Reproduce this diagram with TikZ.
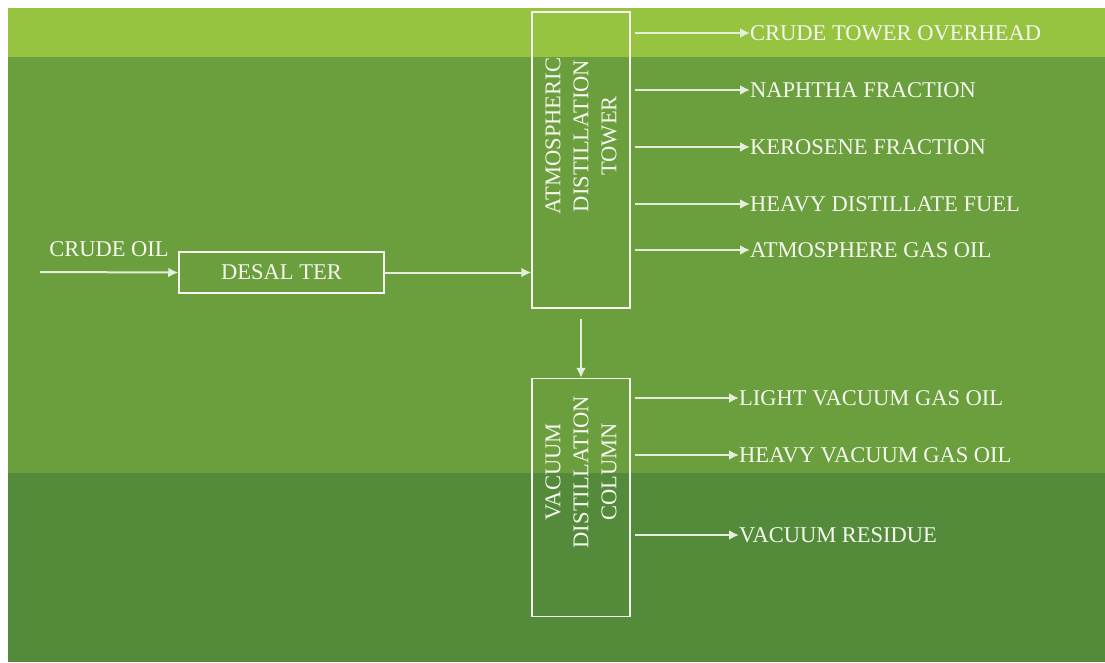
\documentclass[tikz,border=0pt]{standalone}
\usepackage{fontspec}
\setmainfont{Liberation Serif}
\usetikzlibrary{arrows.meta,positioning}
\definecolor{RFLime}{HTML}{96C440}
\definecolor{RFLeaf}{HTML}{6B9F3D}
\definecolor{RFMoss}{HTML}{548B3A}
\definecolor{RFWhite}{HTML}{F6F8F0}
\tikzset{unit/.style={draw=RFWhite,line width=1.5pt,minimum width=98pt,inner sep=0pt}, tag/.style={text=RFWhite,font=\fontsize{22.5}{28}\selectfont,inner sep=0pt}, vtag/.style={tag,rotate=90,align=center}, stream/.style={-{Latex[length=10pt,width=10pt]},line width=2pt,draw=RFWhite!88!RFLeaf}}
\begin{document}
\begin{tikzpicture}[x=1pt,y=-1pt,node distance=69pt and 4pt]
\useasboundingbox (0,0) rectangle (1105,662);
\fill[RFLime] (8,8) rectangle (1105,57);\fill[RFLeaf] (8,57) rectangle (1105,473);\fill[RFMoss] (8,473) rectangle (1105,662);
\node[unit,minimum height=296pt] (atmos) at (581,160) {};\node[unit,minimum height=238pt,below=of atmos] (vacuum) {};
\node[vtag] (atmostxt) at (581,136) {ATMOSPHERIC\\DISTILLATION\\TOWER};\node[vtag] (vacuumtxt) at (581,472) {VACUUM\\DISTILLATION\\COLUMN};
\node[unit,tag,minimum width=205pt,minimum height=41pt] (desalter) at (281.5,272.5) {DESAL TER};
\coordinate (feed) at (40,272);\node[tag] (crude) at (109,249) {CRUDE OIL};
\node[tag,anchor=west] (ovhd) at (750,33) {CRUDE TOWER OVERHEAD};\node[tag,anchor=west] (naphtha) at (750,90) {NAPHTHA FRACTION};\node[tag,anchor=west] (kero) at (750,147) {KEROSENE FRACTION};
\node[tag,anchor=west] (hdf) at (750,204) {HEAVY DISTILLATE FUEL};\node[tag,anchor=west] (ago) at (750,250) {ATMOSPHERE GAS OIL};
\node[tag,anchor=west] (lvgo) at (739,398) {LIGHT VACUUM GAS OIL};\node[tag,anchor=west] (hvgo) at (739,455) {HEAVY VACUUM GAS OIL};\node[tag,anchor=west] (vres) at (739,535) {VACUUM RESIDUE};
\draw[stream] (feed)--(desalter.west);\draw[stream] (desalter.east)--(desalter.east -| atmos.west);\draw[stream,shorten <=10pt] (atmos.south)--(vacuum.north);
\draw[stream,shorten <=4pt] (atmos.east |- ovhd.west)--(ovhd.west);\draw[stream,shorten <=4pt] (atmos.east |- naphtha.west)--(naphtha.west);\draw[stream,shorten <=4pt] (atmos.east |- kero.west)--(kero.west);
\draw[stream,shorten <=4pt] (atmos.east |- hdf.west)--(hdf.west);\draw[stream,shorten <=4pt] (atmos.east |- ago.west)--(ago.west);
\draw[stream,shorten <=4pt] (vacuum.east |- lvgo.west)--(lvgo.west);\draw[stream,shorten <=4pt] (vacuum.east |- hvgo.west)--(hvgo.west);\draw[stream,shorten <=4pt] (vacuum.east |- vres.west)--(vres.west);
\end{tikzpicture}
\end{document}
